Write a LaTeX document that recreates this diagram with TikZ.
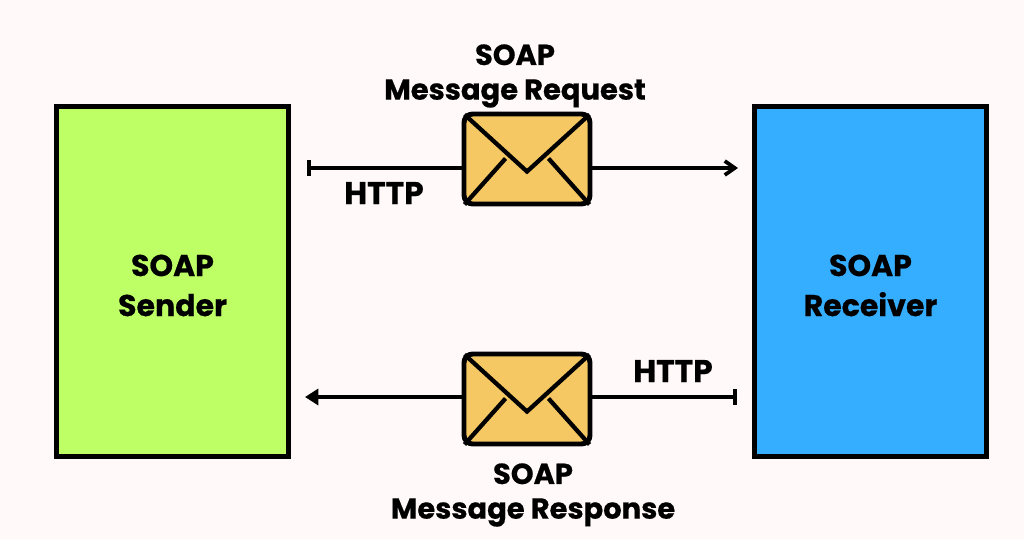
\documentclass[tikz,border=0pt]{standalone}
\usepackage{fontspec}
\setmainfont{Poppins}[BoldFeatures={FakeBold=0.6}]
\usetikzlibrary{arrows.meta,calc}
\definecolor{bgc}{HTML}{FFFAF9}
\definecolor{greenb}{HTML}{BEFF66}
\definecolor{blueb}{HTML}{36AEFF}
\definecolor{envc}{HTML}{F5C863}
\tikzset{
  party/.style={draw=black,line width=3.5pt,minimum width=173.6pt,minimum height=262.2pt,inner sep=0pt,align=center,font=\fontsize{22.5}{30}\selectfont\bfseries},
  envbox/.style={draw=black,fill=envc,line width=3.7pt,rounded corners=6.5pt,minimum width=94.5pt,minimum height=67.5pt,inner sep=0pt},
  flap/.style={black,line width=3.2pt,line join=miter},
  captext/.style={font=\fontsize{21.7}{26}\selectfont\bfseries,align=center,inner sep=0pt},
  httptext/.style={font=\fontsize{23.5}{26}\selectfont\bfseries,inner sep=0pt},
  wire/.style={black,line width=3pt},
  arrowr/.style={-{Straight Barb[length=7.5pt,width=10.5pt,line width=2.8pt]}},
  arrowl/.style={-{Triangle[length=10pt,width=12pt]}},
  startbar/.style={{Bar[width=12pt,line width=2.8pt]}-},
  endbar/.style={-{Bar[width=12pt,line width=2.8pt]}}
}
\newcommand{\envflaps}[1]{%
  \draw[flap] ($(#1.north west)+(3,3)$) -- ($(#1.north)+(0,60)$) -- ($(#1.north east)+(-3,3)$);
  \draw[flap] ($(#1.south west)+(3,-2)$) -- ($(#1.south west)+(44,-48)$);
  \draw[flap] ($(#1.south east)+(-3,-2)$) -- ($(#1.south east)+(-44,-48)$);
}
\begin{document}
\begin{tikzpicture}[x=0.75pt,y=-0.75pt]
\useasboundingbox (0,0) rectangle (1024,539);
\fill[bgc] (0,0) rectangle (1024,539);
\node[party,fill=greenb] (sender) at (172.5,281.5) {\rule{0pt}{22pt}SOAP\\Sender};
\node[party,fill=blueb] (receiver) at (870.5,281.5) {\rule{0pt}{22pt}SOAP\\Receiver};
\coordinate (a1) at (307,168);
\coordinate (a2) at (738,168);
\coordinate (b1) at (305,397);
\coordinate (b2) at (736.5,397);
\node[envbox] (env1) at (527,159) {};
\node[envbox] (env2) at (527,399) {};
\draw[wire,startbar] (a1) -- (a1 -| env1.west);
\draw[wire,arrowr] (a2 -| env1.east) -- (a2);
\draw[wire,arrowl] (b1 -| env2.west) -- (b1);
\draw[wire,endbar] (b2 -| env2.east) -- (b2);
\envflaps{env1}
\envflaps{env2}
\node[captext] (reqlabel) at (515,76) {SOAP\\Message Request};
\node[captext] (reslabel) at (533,495) {SOAP\\Message Response};
\node[httptext] (http1) at (384,193) {HTTP};
\node[httptext] (http2) at (673,371) {HTTP};
\end{tikzpicture}
\end{document}
